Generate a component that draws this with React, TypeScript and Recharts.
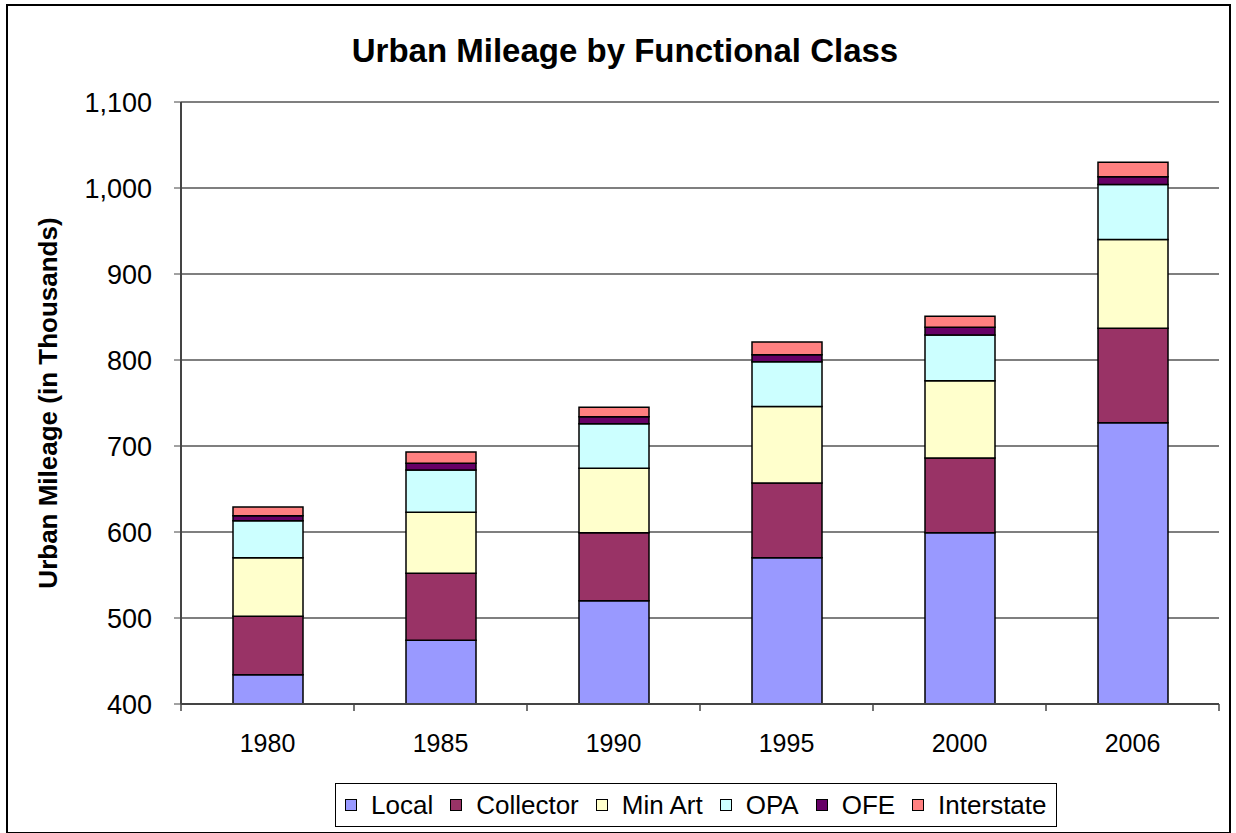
import { BarChart, Bar, XAxis, YAxis, CartesianGrid, Legend } from 'recharts';

const years = ['1980', '1985', '1990', '1995', '2000', '2006'];
const local = [434, 474, 520, 570, 599, 727];
const collector = [68, 78, 79, 87, 87, 110];
const minArt = [68, 71, 75, 89, 90, 103];
const opa = [43, 49, 52, 52, 53, 64];
const ofe = [6, 8, 8, 8, 9, 9];
const interstate = [10, 13, 11, 15, 13, 17];
const yTicks = [400, 500, 600, 700, 800, 900, 1000, 1100];

const SERIES = [
  { key: 'local', name: 'Local', color: '#9999FF' },
  { key: 'collector', name: 'Collector', color: '#993366' },
  { key: 'minArt', name: 'Min Art', color: '#FFFFCC' },
  { key: 'opa', name: 'OPA', color: '#CCFFFF' },
  { key: 'ofe', name: 'OFE', color: '#660066' },
  { key: 'interstate', name: 'Interstate', color: '#FF8080' },
];

const data = years.map((year, i) => ({
  year,
  local: local[i],
  collector: collector[i],
  minArt: minArt[i],
  opa: opa[i],
  ofe: ofe[i],
  interstate: interstate[i],
}));

const FONT = '"Liberation Sans", Arial, sans-serif';
const PLOT_LEFT = 181;
const PLOT_RIGHT = 1219;
const BAND = (PLOT_RIGHT - PLOT_LEFT) / years.length;

function YearTick(props: any) {
  const { x, y, payload, index } = props;
  const top = y - 8;
  return (
    <g>
      <line x1={x - BAND / 2} x2={x - BAND / 2} y1={top} y2={top + 7} stroke="#444" strokeWidth={1.5} />
      {index === years.length - 1 && (
        <line x1={x + BAND / 2} x2={x + BAND / 2} y1={top} y2={top + 7} stroke="#444" strokeWidth={1.5} />
      )}
      <text x={x} y={top + 48} textAnchor="middle" fontSize={25} fontFamily={FONT} fill="#000">
        {payload.value}
      </text>
    </g>
  );
}

function YLabel() {
  return (
    <text
      x={48}
      y={403}
      transform="rotate(-90, 48, 403)"
      textAnchor="middle"
      dominantBaseline="central"
      fontSize={26}
      fontWeight="bold"
      fontFamily={FONT}
      fill="#000"
    >
      Urban Mileage (in Thousands)
    </text>
  );
}

function LegendBox() {
  return (
    <div
      style={{
        display: 'flex',
        alignItems: 'center',
        border: '1.5px solid #000',
        background: '#fff',
        height: 44,
        width: 722,
        boxSizing: 'border-box',
        paddingLeft: 9,
        fontFamily: FONT,
        fontSize: 26,
        color: '#000',
        gap: 17,
      }}
    >
      {SERIES.map((s) => (
        <span key={s.key} style={{ display: 'flex', alignItems: 'center' }}>
          <span
            style={{
              display: 'inline-block',
              width: 10,
              height: 10,
              background: s.color,
              border: '1.5px solid #000',
              marginRight: 14,
            }}
          />
          {s.name}
        </span>
      ))}
    </div>
  );
}

export default function App() {
  return (
    <div style={{ position: 'absolute', left: 0, top: 0, width: 1236, height: 833, background: '#fff' }}>
      <div
        style={{
          position: 'absolute',
          left: 6,
          top: 4,
          width: 1225,
          height: 830,
          border: '2px solid #000',
          boxSizing: 'border-box',
        }}
      />
      <div
        style={{
          position: 'absolute',
          left: 0,
          width: 1250,
          top: 32,
          textAlign: 'center',
          fontFamily: FONT,
          fontWeight: 'bold',
          fontSize: 33,
          color: '#000',
        }}
      >
        Urban Mileage by Functional Class
      </div>
      <div style={{ position: 'absolute', left: 0, top: 0 }}>
        <BarChart
          width={1236}
          height={833}
          data={data}
          margin={{ top: 102, right: 1236 - PLOT_RIGHT, left: 81, bottom: 69 }}
          barSize={70}
        >
          <CartesianGrid vertical={false} stroke="#000" strokeWidth={1.2} />
          <XAxis
            dataKey="year"
            height={60}
            tick={<YearTick />}
            tickLine={false}
            axisLine={{ stroke: '#444', strokeWidth: 2 }}
            interval={0}
          />
          <YAxis
            domain={[400, 1100]}
            ticks={yTicks}
            allowDataOverflow
            width={100}
            tickSize={7}
            tickMargin={22}
            tickFormatter={(v: number) => v.toLocaleString('en-US')}
            tick={{ fontSize: 27, fontFamily: FONT, fill: '#000' }}
            tickLine={{ stroke: '#444' }}
            axisLine={{ stroke: '#444', strokeWidth: 2 }}
            label={<YLabel />}
          />
          <YAxis yAxisId="frame" orientation="right" width={0} tick={false} axisLine={{ stroke: '#999', strokeWidth: 2 }} />
          <Legend
            verticalAlign="middle"
            align="center"
            content={() => <LegendBox />}
            wrapperStyle={{ position: 'absolute', left: 335, top: 783, width: 722 }}
          />
          {SERIES.map((s) => (
            <Bar
              key={s.key}
              dataKey={s.key}
              name={s.name}
              stackId="a"
              fill={s.color}
              stroke="#000"
              strokeWidth={1.5}
              isAnimationActive={false}
            />
          ))}
        </BarChart>
      </div>
    </div>
  );
}
